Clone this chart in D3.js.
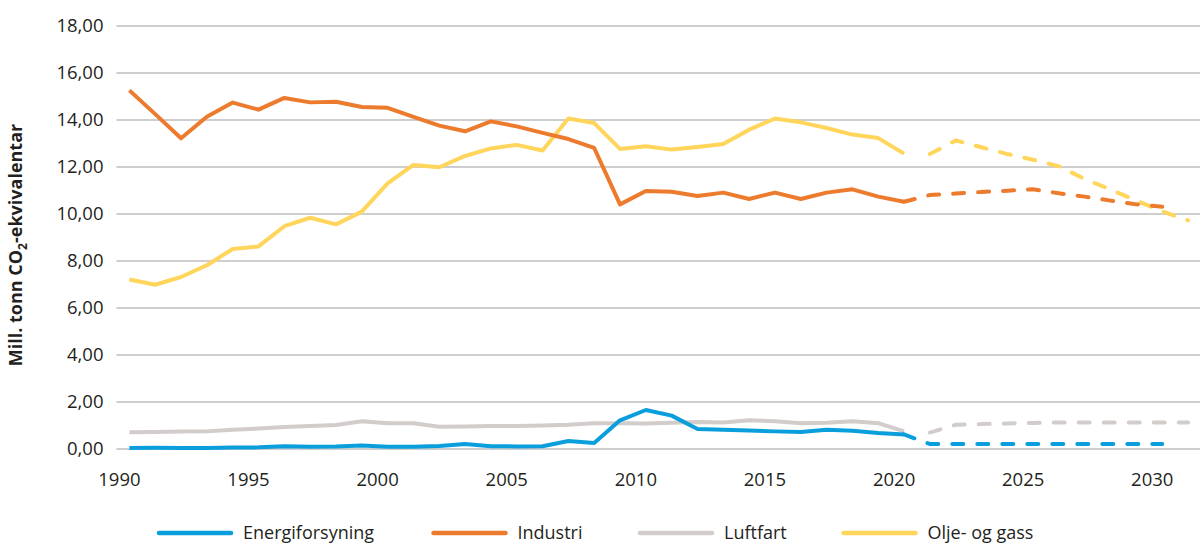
<!DOCTYPE html>
<html>
<head>
<meta charset="utf-8">
<script src="https://cdn.jsdelivr.net/npm/d3@7"></script>
<style>
    body { margin: 0; background: #fff; }
    text { font-family: "Open Sans", "Noto Sans", sans-serif; fill: #231f20; }
</style>
</head>
<body>
<div id="emissionsGraph"></div>
<script>
var YEARS = d3.range(1990, 2021);
var TICK_YEARS = [1990, 1995, 2000, 2005, 2010, 2015, 2020, 2025, 2030];
var Y_TICKS = [0, 2, 4, 6, 8, 10, 12, 14, 16, 18];

var SERIES_NAMES = ["Energiforsyning", "Industri", "Luftfart", "Olje- og gass"];
var SERIES_COLORS = ["#0a9fdc", "#ec7b2e", "#d2cccb", "#ffd55c"];

// historical values 1990-2020
var energiforsyning = [0.04, 0.05, 0.04, 0.04, 0.06, 0.07, 0.12, 0.10, 0.11, 0.15, 0.10, 0.10, 0.13, 0.21, 0.12, 0.11, 0.12, 0.34, 0.26, 1.22,
    1.66, 1.42, 0.85, 0.82, 0.79, 0.75, 0.72, 0.82, 0.78, 0.68, 0.62];
var industri = [15.26, 14.25, 13.22, 14.14, 14.74, 14.44, 14.94, 14.75, 14.78, 14.55, 14.52, 14.13, 13.76, 13.52, 13.94, 13.73, 13.45, 13.19, 12.81, 10.41,
    10.98, 10.95, 10.77, 10.91, 10.64, 10.91, 10.64, 10.91, 11.05, 10.74, 10.52];
var luftfart = [0.71, 0.72, 0.74, 0.75, 0.82, 0.87, 0.94, 0.98, 1.02, 1.18, 1.10, 1.10, 0.95, 0.96, 0.98, 0.98, 1.00, 1.03, 1.10, 1.10,
    1.09, 1.12, 1.15, 1.13, 1.22, 1.18, 1.10, 1.12, 1.18, 1.10, 0.75];
var oljeGass = [7.21, 6.99, 7.32, 7.82, 8.51, 8.62, 9.48, 9.84, 9.56, 10.10, 11.30, 12.09, 11.99, 12.47, 12.79, 12.94, 12.70, 14.06, 13.87, 12.77,
    12.88, 12.74, 12.85, 12.98, 13.59, 14.06, 13.90, 13.66, 13.38, 13.23, 12.57];

// projections (dashed)
var energiProjYears = d3.range(2020, 2031);
var energiProj = [0.62, 0.21, 0.21, 0.21, 0.21, 0.21, 0.21, 0.21, 0.21, 0.21, 0.21];
var industriProjYears = d3.range(2020, 2031);
var industriProj = [10.52, 10.81, 10.87, 10.94, 10.99, 11.05, 10.88, 10.74, 10.57, 10.41, 10.31];
var luftfartProjYears = d3.range(2021, 2032);
var luftfartProj = [0.70, 1.03, 1.06, 1.09, 1.11, 1.13, 1.13, 1.13, 1.13, 1.13, 1.13];
var oljeProjYears = d3.range(2021, 2032);
var oljeProj = [12.55, 13.13, 12.84, 12.55, 12.31, 12.03, 11.49, 11.04, 10.57, 10.11, 9.73];

drawChart();

function toPoints(years, values) {
    return years.map(function (yr, i) { return { year: yr, value: values[i] }; });
}

function drawChart() {

    var width = 1200, height = 560;
    var plot = { left: 116.5, right: 1201, top: 26, bottom: 449 };

    var svg = d3.select("#emissionsGraph")
        .append("svg")
        .attr("width", width)
        .attr("height", height);

    var x = d3.scaleLinear()
        .domain([1989.5, 2031.5])
        .range([plot.left, plot.right]);

    var y = d3.scaleLinear()
        .domain([0, 18])
        .range([plot.bottom, plot.top]);

    var no = d3.formatLocale({ decimal: ",", thousands: " ", grouping: [3], currency: ["", " kr"] });

    // gridlines
    svg.append("g")
        .selectAll("line")
        .data(Y_TICKS)
        .enter()
        .append("line")
        .attr("x1", plot.left)
        .attr("x2", width)
        .attr("y1", function (d) { return y(d); })
        .attr("y2", function (d) { return y(d); })
        .attr("stroke", "#9d9d9d")
        .attr("stroke-width", 1.2);

    var yAxis = svg.append("g")
        .attr("transform", "translate(" + plot.left + ",0)")
        .call(d3.axisLeft(y).tickValues(Y_TICKS).tickSize(0).tickPadding(13).tickFormat(no.format(".2f")));
    yAxis.select(".domain").remove();
    yAxis.selectAll("text").style("font-size", "18.5px").style("fill", "#231f20").style("font-family", "'Open Sans'");

    var xAxis = svg.append("g")
        .attr("transform", "translate(0," + plot.bottom + ")")
        .call(d3.axisBottom(x).tickValues(TICK_YEARS).tickSize(0).tickPadding(24).tickFormat(d3.format("d")));
    xAxis.select(".domain").remove();
    xAxis.selectAll("text")
        .attr("dx", -10.5)
        .style("font-size", "18.5px").style("fill", "#231f20").style("font-family", "'Open Sans'");

    // y axis title with subscript
    var title = svg.append("text")
        .attr("transform", "translate(22,245) rotate(-90)")
        .attr("text-anchor", "middle")
        .style("font-size", "18px")
        .style("font-weight", "bold");
    title.append("tspan").text("Mill. tonn CO");
    title.append("tspan").text("2").style("font-size", "12px").attr("dy", 5);
    title.append("tspan").text("-ekvivalentar").attr("dy", -5);

    var line = d3.line()
        .x(function (d) { return x(d.year); })
        .y(function (d) { return y(d.value); });

    var history = [energiforsyning, industri, luftfart, oljeGass].map(function (vals, i) {
        return { name: SERIES_NAMES[i], color: SERIES_COLORS[i], values: toPoints(YEARS, vals) };
    });
    var projections = [
        toPoints(energiProjYears, energiProj),
        toPoints(industriProjYears, industriProj),
        toPoints(luftfartProjYears, luftfartProj),
        toPoints(oljeProjYears, oljeProj)
    ].map(function (pts, i) { return { name: SERIES_NAMES[i], color: SERIES_COLORS[i], values: pts }; });

    // draw order: grey and blue at the back, then yellow, then orange
    var order = [2, 0, 3, 1];

    order.forEach(function (i) {
        svg.append("path")
            .attr("d", line(history[i].values))
            .attr("stroke", history[i].color)
            .attr("stroke-width", 4)
            .attr("stroke-linejoin", "round")
            .attr("fill", "none");

        svg.append("path")
            .attr("d", line(projections[i].values))
            .attr("stroke", projections[i].color)
            .attr("stroke-width", 4)
            .attr("stroke-linecap", "round")
            .attr("stroke-dasharray", "11,14")
            .attr("fill", "none");
    });

    // legend, one entry per series
    var legendY = 533;
    var legendX = [159, 433.5, 640, 843.5];
    SERIES_NAMES.forEach(function (name, i) {
        svg.append("line")
            .attr("x1", legendX[i])
            .attr("x2", legendX[i] + 72)
            .attr("y1", legendY)
            .attr("y2", legendY)
            .attr("stroke", SERIES_COLORS[i])
            .attr("stroke-width", 4.5)
            .attr("stroke-linecap", "round");
        svg.append("text")
            .attr("x", legendX[i] + 84)
            .attr("y", legendY)
            .attr("dy", "0.36em")
            .style("font-size", "18px")
            .text(name);
    });
}
</script>
</body>
</html>
